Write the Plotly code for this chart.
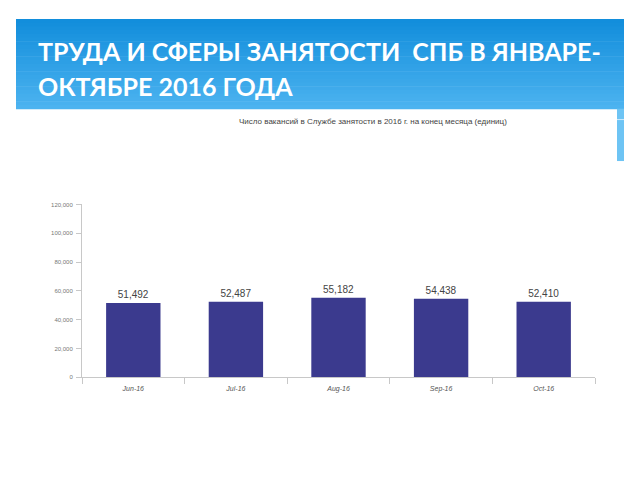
import plotly.graph_objects as go

months = ["Jun-16", "Jul-16", "Aug-16", "Sep-16", "Oct-16"]
vacancies = [51492, 52487, 55182, 54438, 52410]
y_ticks = [0, 20000, 40000, 60000, 80000, 100000, 120000]
y_tick_labels = ["0", "20,000", "40,000", "60,000", "80,000", "100,000", "120,000"]

title_line1 = "ТРУДА И СФЕРЫ ЗАНЯТОСТИ  СПБ В ЯНВАРЕ-"
title_line2 = "ОКТЯБРЕ 2016 ГОДА"
chart_title = "Число вакансий в Службе занятости в 2016 г. на конец месяца (единиц)"

# page has an 8px body margin; figure is placed at (8, 8)
OFF = 8
W, H = 640 - 2 * OFF, 480 - 2 * OFF

def px(x):
    return (x - OFF) / W

def py(y):
    return 1 - (y - OFF) / H

fig = go.Figure()
fig.add_trace(go.Bar(
    x=months, y=vacancies,
    marker=dict(color="#3b3a8e", line=dict(width=0)),
    text=[f"{v:,}" for v in vacancies],
    textposition="outside",
    textfont=dict(family="Liberation Sans, Arial", size=10, color="#444444"),
    cliponaxis=False,
    width=0.53,
))

shapes = []
top, bottom = 16, 107
c0 = (0x12, 0x8e, 0xdc)
c1 = (0x4c, 0xb3, 0xf0)
n = 24
for i in range(n):
    t = i / (n - 1)
    c = tuple(int(c0[k] + (c1[k] - c0[k]) * t) for k in range(3))
    y0 = top + (bottom - top) * i / n
    y1 = top + (bottom - top) * (i + 1) / n
    shapes.append(dict(type="rect", xref="paper", yref="paper",
                       x0=px(16), x1=px(624), y0=py(y1 + 0.5), y1=py(y0),
                       fillcolor="rgb(%d,%d,%d)" % c, line=dict(width=0), layer="below"))
shapes.append(dict(type="rect", xref="paper", yref="paper",
                   x0=px(617), x1=px(624), y0=py(160), y1=py(107),
                   fillcolor="#6ec4f4", line=dict(width=0), layer="below"))
shapes.append(dict(type="line", xref="paper", yref="paper",
                   x0=px(617), x1=px(624), y0=py(118), y1=py(118),
                   line=dict(color="#cfeafb", width=1), layer="below"))

title_font = dict(family="Lato, Open Sans", size=25, color="white", weight="bold")

fig.update_layout(
    width=W, height=H,
    margin=dict(l=0, r=0, t=0, b=0),
    paper_bgcolor="white", plot_bgcolor="white",
    showlegend=False,
    shapes=shapes,
    xaxis=dict(
        domain=[px(82), px(595)],
        showgrid=False, showline=True, linecolor="#c8c8c8", linewidth=1,
        ticks="outside", tickson="boundaries", ticklen=6, tickcolor="#c8c8c8",
        ticklabelstandoff=4,
        tickfont=dict(family="Liberation Sans, Arial", size=7, color="#555555", style="italic"),
    ),
    yaxis=dict(
        domain=[py(379), py(204)],
        range=[0, 120000],
        tickvals=y_ticks, ticktext=y_tick_labels,
        showgrid=False, showline=True, linecolor="#c8c8c8", linewidth=1,
        ticks="outside", ticklen=5, tickcolor="#c8c8c8",
        ticklabelstandoff=2,
        tickfont=dict(family="Liberation Sans, Arial", size=6, color="#777777"),
        zeroline=False,
    ),
    annotations=[
        dict(text=title_line1, xref="paper", yref="paper", x=px(36), y=py(49),
             xanchor="left", yanchor="middle", align="left", showarrow=False,
             font=title_font),
        dict(text=title_line2, xref="paper", yref="paper", x=px(36), y=py(84),
             xanchor="left", yanchor="middle", align="left", showarrow=False,
             font=title_font),
        dict(text=chart_title, xref="paper", yref="paper", x=px(373), y=py(120),
             xanchor="center", yanchor="middle", showarrow=False,
             font=dict(family="Liberation Sans, Arial", size=8, color="#444444")),
    ],
)

fig.write_html("out.html")
